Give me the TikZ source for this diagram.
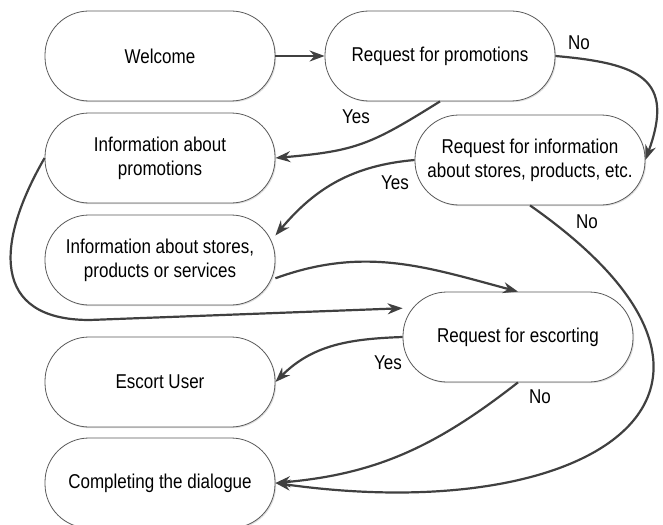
\documentclass[tikz,border=0pt]{standalone}
\usepackage{fontspec}
\setmainfont{Liberation Sans}[FakeStretch=0.85]
\usetikzlibrary{arrows.meta,shadows}

\begin{document}
\begin{tikzpicture}[x=1pt,y=1pt,>={Stealth[length=15pt,width=11pt]},
    state/.style={rectangle,rounded corners=44pt,draw=black!65,line width=0.8pt,
      fill=white,minimum width=230pt,minimum height=90pt,inner sep=0pt,align=center,
      font=\fontsize{20}{24}\selectfont,
      drop shadow={shadow xshift=1.2pt,shadow yshift=-1.2pt,fill=black!25}},
    flow/.style={->,draw=black!75,line width=2.2pt},
    answer/.style={inner sep=0pt,font=\fontsize{20}{24}\selectfont}]
    \useasboundingbox (0,0) rectangle (663,-524);

    % left column
    \node[state] (welcome) at (160,-56) {Welcome};
    \node[state] (infopromo) at (160,-158) {Information about\\promotions};
    \node[state] (infostores) at (160,-260) {Information about stores,\\products or services};
    \node[state] (escort) at (160,-382) {Escort User};
    \node[state] (complete) at (160,-483) {Completing the dialogue};
    % requests
    \node[state] (reqpromo) at (440,-56) {Request for promotions};
    \node[state] (reqinfo) at (530,-160) {Request for information\\about stores, products, etc.};
    \node[state] (reqescort) at (518,-337) {Request for escorting};

    % answers
    \node[answer] (no1) at (579,-43) {No};
    \node[answer] (yes1) at (356,-117) {Yes};
    \node[answer] (yes2) at (395,-183) {Yes};
    \node[answer] (no2) at (587,-222) {No};
    \node[answer] (yes3) at (388,-363) {Yes};
    \node[answer] (no3) at (540,-397) {No};

    \draw[flow] (welcome) -- (reqpromo);
    \draw[flow] (reqpromo.east) to[out=-5,in=70,looseness=1.6] (reqinfo.east);
    \draw[flow] (reqpromo.south) to[out=212,in=5,looseness=1.2] (infopromo.east);
    \draw[flow] (reqinfo.west) to[out=185,in=50] (infostores.12);
    \draw[flow] (reqinfo.south) to[out=-35,in=-8,looseness=2.2] (complete.east);
    \draw[flow] (infopromo.west) to[out=240,in=180,looseness=1.5] ++(45,-162)
      -- (reqescort.166);
    \draw[flow] (infostores.-9) to[out=20,in=165] (reqescort.north);
    \draw[flow] (reqescort.west) to[out=182,in=45] (escort.east);
    \draw[flow] (reqescort.south) to[out=218,in=5] (complete.east);
\end{tikzpicture}
\end{document}
